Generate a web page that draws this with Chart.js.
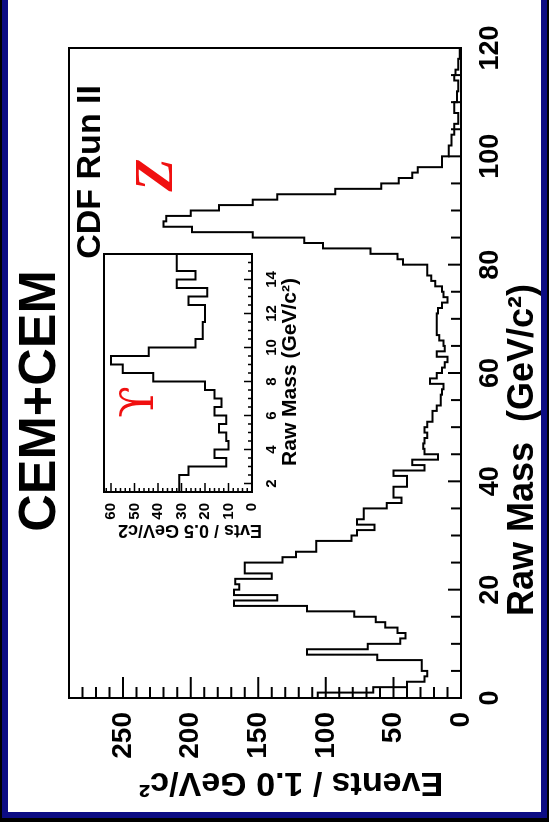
<!DOCTYPE html>
<html>
<head>
<meta charset="utf-8">
<script src="https://cdn.jsdelivr.net/npm/chart.js@4.4.1/dist/chart.umd.min.js"></script>
<style>
  html, body { margin: 0; padding: 0; }
  body { position: relative; width: 549px; height: 822px; overflow: hidden; background: #000; }
  #paper { position: absolute; left: 2px; top: 0; width: 545px; height: 818px; background: #0c0c84; }
  #sheet { position: absolute; left: 8px; top: 0; width: 533px; height: 812px; background: #fff; }
  /* the plot is laid out landscape and turned a quarter turn to the left */
  #stage { position: absolute; left: 0; top: 0; width: 822px; height: 549px;
           transform-origin: 0 0; transform: translate(0, 822px) rotate(-90deg); }
  #mainChart { position: absolute; left: 0; top: 0; }
  #insetChart { position: absolute; left: 262px; top: 90px; }
</style>
</head>
<body>
<div id="paper"></div>
<div id="sheet"></div>
<div id="stage">
  <canvas id="mainChart" width="822" height="549"></canvas>
  <canvas id="insetChart" width="320" height="215"></canvas>
</div>
<script>
// raw dielectron mass, 1 GeV bins from 0 to 120
var massBinStart = 0, massBinWidth = 1;
var massCounts = [300,106,65,40,27,25,29,29,62,114,
                  69,45,41,47,56,63,79,114,168,136,
                  168,164,167,140,160,160,132,122,107,107,
                  81,77,64,77,72,72,55,44,50,50,
                  40,40,50,27,36,17,27,28,27,25,
                  27,25,21,21,18,15,15,14,13,23,
                  18,14,12,10,18,12,13,16,18,18,
                  18,18,17,14,10,13,14,19,22,25,
                  25,43,47,67,102,116,154,199,220,218,
                  200,179,154,136,93,59,46,36,32,14,
                  14,9,9,7,7,5,5,2,2,5,
                  5,3,3,2,2,5,4,2,2,1];
var massTicks = [0, 20, 40, 60, 80, 100, 120];
var eventTicks = [0, 50, 100, 150, 200, 250];

// low mass close-up, 0.5 GeV bins from 1.5 to 15.5
var lowBinStart = 1.5, lowBinWidth = 0.5;
var lowCounts = [50,31,31,27,11,16,10,11,14,11,
                 16,13,16,20,42,55,60,44,24,21,
                 21,20,20,27,19,32,24,32];
var lowMassTicks = [2, 4, 6, 8, 10, 12, 14];
var lowEventTicks = [0, 10, 20, 30, 40, 50, 60];

var sans = '"Liberation Sans", Arial, Helvetica, sans-serif';

// bin edges + counts -> points for a stepped outline
function histPoints(start, width, counts) {
  var pts = [{x: start, y: 0}];
  counts.forEach(function (c, i) { pts.push({x: start + i * width, y: c}); });
  var end = start + counts.length * width;
  pts.push({x: end, y: counts[counts.length - 1]});
  pts.push({x: end, y: 0});
  return pts;
}

function isMajor(v, m) { return Math.abs(v / m - Math.round(v / m)) < 1e-6; }

// box around the plot and tick marks pointing inwards
function framePlugin(t) {
  return {
    id: 'frame',
    afterDatasetsDraw: function (chart) {
      var ctx = chart.ctx, a = chart.chartArea, xs = chart.scales.x, ys = chart.scales.y;
      ctx.save();
      ctx.strokeStyle = '#000';
      ctx.lineWidth = t.tickWidth;
      ctx.beginPath();
      var n = Math.round((xs.max - xs.min) / t.xStep);
      for (var i = 1; i < n; i++) {
        var v = xs.min + i * t.xStep;
        var px = xs.getPixelForValue(v);
        var len = isMajor(v, t.xMajor) ? t.xMajorLen : t.xLen;
        ctx.moveTo(px, a.bottom); ctx.lineTo(px, a.bottom - len);
      }
      n = Math.round((ys.max - ys.min) / t.yStep);
      for (i = 1; i < n; i++) {
        v = ys.min + i * t.yStep;
        var py = ys.getPixelForValue(v);
        len = isMajor(v, t.yMajor) ? t.yMajorLen : t.yLen;
        ctx.moveTo(a.left, py); ctx.lineTo(a.left + len, py);
      }
      ctx.stroke();
      ctx.lineWidth = t.width;
      ctx.strokeRect(a.left, a.top, a.right - a.left, a.bottom - a.top);
      ctx.restore();
    }
  };
}

function notesPlugin(items) {
  return {
    id: 'notes',
    afterDraw: function (chart) {
      var ctx = chart.ctx;
      items.forEach(function (n) {
        ctx.save();
        ctx.font = n.font;
        ctx.fillStyle = n.color || '#000';
        ctx.textAlign = n.align || 'center';
        ctx.textBaseline = n.baseline || 'alphabetic';
        ctx.translate(n.x, n.y);
        if (n.rotate) ctx.rotate(n.rotate);
        ctx.fillText(n.text, 0, 0);
        ctx.restore();
      });
    }
  };
}

function tickList(values) {
  return function (s) { s.ticks = values.map(function (v) { return {value: v}; }); };
}

var mainNotes = [
  {text: 'CEM+CEM', x: 421, y: 55, font: 'bold 52px ' + sans},
  {text: 'CDF Run II', x: 737, y: 100, align: 'right', font: 'bold 34px ' + sans},
  {text: 'Z', x: 647, y: 172, color: '#f01010', font: 'italic bold 54px "Liberation Serif", "Times New Roman", serif'},
  {text: 'Events / 1.0 GeV/c\u00b2', x: 40, y: 291, rotate: -Math.PI / 2, baseline: 'middle', font: 'bold 34px ' + sans},
  {text: 'Raw Mass  (GeV/c\u00b2)', x: 372, y: 523, baseline: 'middle', font: 'bold 36px ' + sans}
];

var insetNotes = [
  {text: '\u03d2', x: 158, y: 63, color: '#f01010', font: '46px "DejaVu Serif", "Liberation Serif", serif'},
  {text: 'Raw Mass (GeV/c\u00b2)', x: 188, y: 200, baseline: 'middle', font: 'bold 21px ' + sans},
  {text: 'Evts / 0.5 GeV/c2', x: 30, y: 100, rotate: -Math.PI / 2, baseline: 'middle', font: 'bold 18px ' + sans}
];

new Chart(document.getElementById('mainChart'), {
  type: 'line',
  data: {
    datasets: [{
      data: histPoints(massBinStart, massBinWidth, massCounts),
      stepped: 'after',
      borderColor: '#000',
      borderWidth: 2,
      pointRadius: 0,
      fill: false
    }]
  },
  options: {
    responsive: false,
    animation: false,
    devicePixelRatio: 1,
    events: [],
    layout: {padding: {left: 0, top: 69, right: 48, bottom: 0}},
    plugins: {legend: {display: false}, tooltip: {enabled: false}},
    scales: {
      x: {
        type: 'linear', min: 0, max: 120,
        afterBuildTicks: tickList(massTicks),
        afterFit: function (s) { s.height = 88; },
        grid: {display: false}, border: {display: false},
        ticks: {color: '#000', padding: 5, maxRotation: 0, autoSkip: false,
                font: {family: sans, size: 27, weight: 'bold'}}
      },
      y: {
        type: 'linear', min: 0, max: 290,
        afterBuildTicks: tickList(eventTicks),
        afterFit: function (s) { s.width = 124; },
        grid: {display: false}, border: {display: false},
        ticks: {color: '#000', padding: 6, font: {family: sans, size: 28, weight: 'bold'}}
      }
    }
  },
  plugins: [
    framePlugin({width: 2, tickWidth: 2, xStep: 5, xMajor: 20, xLen: 10, xMajorLen: 13,
                 yStep: 10, yMajor: 50, yLen: 11, yMajorLen: 21}),
    notesPlugin(mainNotes)
  ]
});

new Chart(document.getElementById('insetChart'), {
  type: 'line',
  data: {
    datasets: [{
      data: histPoints(lowBinStart, lowBinWidth, lowCounts),
      stepped: 'after',
      borderColor: '#000',
      borderWidth: 2,
      pointRadius: 0,
      fill: false
    }]
  },
  options: {
    responsive: false,
    animation: false,
    devicePixelRatio: 1,
    events: [],
    layout: {padding: {left: 0, top: 14, right: 14, bottom: 0}},
    plugins: {legend: {display: false}, tooltip: {enabled: false}},
    scales: {
      x: {
        type: 'linear', min: 1.5, max: 15.5,
        afterBuildTicks: tickList(lowMassTicks),
        afterFit: function (s) { s.height = 53; },
        grid: {display: false}, border: {display: false},
        ticks: {color: '#000', padding: 3, maxRotation: 0, autoSkip: false,
                font: {family: sans, size: 15, weight: 'bold'}}
      },
      y: {
        type: 'linear', min: 0, max: 63,
        afterBuildTicks: tickList(lowEventTicks),
        afterFit: function (s) { s.width = 68; },
        grid: {display: false}, border: {display: false},
        ticks: {color: '#000', padding: 3, font: {family: sans, size: 15, weight: 'bold'}}
      }
    }
  },
  plugins: [
    framePlugin({width: 2, tickWidth: 1.5, xStep: 0.5, xMajor: 2, xLen: 4, xMajorLen: 8,
                 yStep: 2, yMajor: 10, yLen: 4, yMajorLen: 9}),
    notesPlugin(insetNotes)
  ]
});
</script>
</body>
</html>
